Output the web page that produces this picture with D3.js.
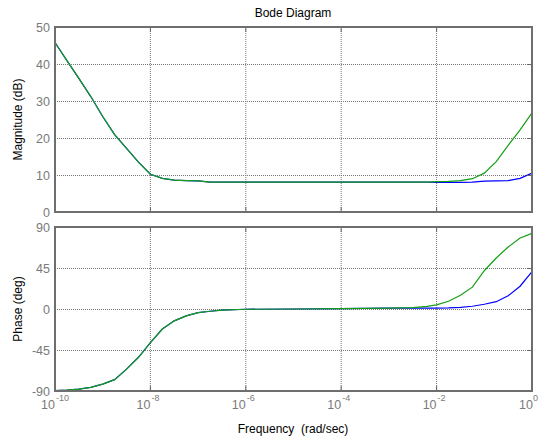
<!DOCTYPE html>
<html><head><meta charset="utf-8">
<script src="https://cdn.jsdelivr.net/npm/d3@7"></script>
<style>body{margin:0;background:#fff;}svg{display:block;font-family:"Liberation Sans",Arial,sans-serif;}</style>
</head><body><svg id="c" width="549" height="440"></svg>
<script>
// log10 of frequency (rad/sec)
const logw = [-10,-9.75,-9.5,-9.25,-9,-8.75,-8.5,-8.25,-8,-7.75,-7.5,-7.25,-7,-6.75,-6.5,-6,-5,-4,-3,-2.5,-2.2,-2,-1.75,-1.5,-1.25,-1,-0.75,-0.5,-0.25,0];
const magGreen = [45.8,40.9,36.1,31.2,25.8,20.9,17.2,13.5,10.2,9.1,8.6,8.5,8.4,8.1,8.1,8.1,8.1,8.1,8.1,8.1,8.1,8.2,8.3,8.5,9.0,10.5,13.6,18.0,22.2,26.8];
const magBlue  = [45.8,40.9,36.1,31.2,25.8,20.9,17.2,13.5,10.2,9.1,8.6,8.5,8.4,8.1,8.1,8.1,8.1,8.1,8.1,8.1,8.1,8.0,8.0,8.0,8.05,8.35,8.4,8.5,9.1,10.5];
const phaseGreen = [-89.5,-89,-88,-86,-82.5,-77.5,-66,-53,-37,-22,-13,-7.5,-4,-2.5,-1.2,-0.3,0,0.5,1,1.5,2.8,4.6,8.5,15,24,42,56,68,78,83];
const phaseBlue  = [-89.5,-89,-88,-86,-82.5,-77.5,-66,-53,-37,-22,-13,-7.5,-4,-2.5,-1.2,-0.3,0,0.5,1,1,1,1,1.2,1.8,3,5.2,8,14.5,25,41];
const xTickExp = [-10,-8,-6,-4,-2,0];
const magTicks = [0,10,20,30,40,50];
const phaseTicks = [-90,-45,0,45,90];

const svg = d3.select("#c");
const L = 55, R = 532;
const x = d3.scaleLinear().domain([-10,0]).range([L,R]);
const yM = d3.scaleLinear().domain([0,50]).range([212,27]);
const yP = d3.scaleLinear().domain([-90,90]).range([391,227]);

function panel(y, ticks, magS, blueS, greenS, label) {
  const g = svg.append("g");
  const [y0,y1] = y.range();
  // grid
  g.selectAll(".gx").data(xTickExp.slice(1,-1)).enter().append("line")
    .attr("x1",d=>x(d)).attr("x2",d=>x(d)).attr("y1",y1).attr("y2",y0)
    .attr("stroke","#777").attr("stroke-width",1).attr("stroke-dasharray","1,1");
  g.selectAll(".gy").data(ticks.slice(1,-1)).enter().append("line")
    .attr("x1",L).attr("x2",R).attr("y1",d=>y(d)+0.5).attr("y2",d=>y(d)+0.5)
    .attr("stroke","#777").attr("stroke-width",1).attr("stroke-dasharray","1,1");
  // top dotted edge and bottom dotted edge lines
  // curves
  const line = d3.line().x((d,i)=>x(logw[i])).y(d=>y(d));
  g.append("path").attr("d",line(blueS)).attr("fill","none").attr("stroke","#0000ff").attr("stroke-width",1.2);
  g.append("path").attr("d",line(greenS)).attr("fill","none").attr("stroke","#13a013").attr("stroke-width",1.2);
  // ticks
  g.selectAll(".tx").data(xTickExp.slice(1,-1)).enter().append("line")
    .attr("x1",d=>x(d)).attr("x2",d=>x(d)).attr("y1",y0).attr("y2",y0-5).attr("stroke","#666").attr("stroke-width",1);
  g.selectAll(".tx2").data(xTickExp.slice(1,-1)).enter().append("line")
    .attr("x1",d=>x(d)).attr("x2",d=>x(d)).attr("y1",y1).attr("y2",y1+5).attr("stroke","#666").attr("stroke-width",1);
  g.selectAll(".ty").data(ticks.slice(1,-1)).enter().append("line")
    .attr("x1",R).attr("x2",R-5).attr("y1",d=>y(d)+0.5).attr("y2",d=>y(d)+0.5).attr("stroke","#666").attr("stroke-width",1);
  // frame
  g.append("rect").attr("x",L).attr("y",y1).attr("width",R-L).attr("height",y0-y1)
    .attr("fill","none").attr("stroke","#6e6e6e").attr("stroke-width",2);
  // y tick labels
  g.selectAll(".yl").data(ticks).enter().append("text")
    .attr("x",L-5).attr("y",d=>y(d)+4.5).attr("text-anchor","end")
    .attr("font-size",12.5).attr("fill","#7a7a7a").text(d=>d);
  // y label
  const cy = (y0+y1)/2;
  g.append("text").attr("transform",`translate(22,${cy}) rotate(-90)`).attr("text-anchor","middle")
    .attr("font-size",12).attr("fill","#000").text(label);
}
panel(yM, magTicks, null, magBlue, magGreen, "Magnitude (dB)");
panel(yP, phaseTicks, null, phaseBlue, phaseGreen, "Phase (deg)");

// x tick labels
const xl = svg.selectAll(".xl").data(xTickExp).enter().append("g")
  .attr("transform",d=>`translate(${x(d)},409)`);
xl.append("text").attr("x",d=> d===0 ? -6 : -7).attr("y",0).attr("text-anchor","middle")
  .attr("font-size",12.5).attr("fill","#7a7a7a").text("10");
xl.append("text").attr("x",1).attr("y",-8).attr("text-anchor","start")
  .attr("font-size",9).attr("fill","#7a7a7a").text(d=>d);

svg.append("text").attr("x",293).attr("y",17).attr("text-anchor","middle")
  .attr("font-size",12).attr("fill","#000").text("Bode Diagram");
svg.append("text").attr("x",293).attr("y",433).attr("text-anchor","middle")
  .attr("font-size",12).attr("fill","#000").attr("xml:space","preserve").style("white-space","pre").text("Frequency  (rad/sec)");
</script></body></html>
